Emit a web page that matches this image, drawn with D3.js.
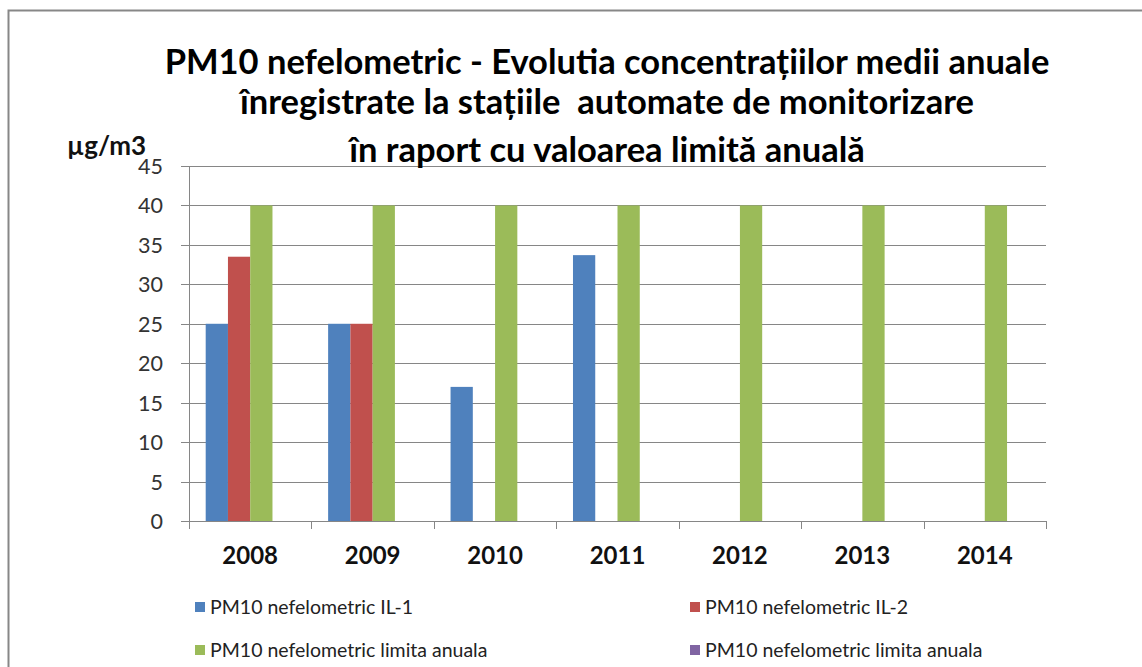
<!DOCTYPE html>
<html>
<head>
<meta charset="utf-8">
<script src="https://cdn.jsdelivr.net/npm/d3@7"></script>
<style>
body { margin: 0; background: #fff; }
svg { display: block; font-family: Lato, "Open Sans", sans-serif; }
</style>
</head>
<body>
<div id="container"><svg></svg></div>
<script>
let width = 1142, height = 667;

// date
let years = ['2008', '2009', '2010', '2011', '2012', '2013', '2014'];
let il1 = [25, 25, 17, 33.7, null, null, null];
let il2 = [33.5, 25, null, null, null, null, null];
let limita = [40, 40, 40, 40, 40, 40, 40];
let limita2 = [null, null, null, null, null, null, null];
let seriesNames = ['PM10 nefelometric IL-1', 'PM10 nefelometric IL-2', 'PM10 nefelometric limita anuala', 'PM10 nefelometric limita anuala'];
let seriesColors = ['#4f81bd', '#c0504d', '#9bbb59', '#8064a2'];
let yTicks = [0, 5, 10, 15, 20, 25, 30, 35, 40, 45];
let titleLines = ['PM10 nefelometric - Evolutia concentrațiilor medii anuale',
                  'înregistrate la stațiile  automate de monitorizare',
                  'în raport cu valoarea limită anuală'];

let pLeft = 189, pRight = 1046, pTop = 166, pBottom = 521;

let svg = d3.select('#container').select('svg')
    .attr('width', width).attr('height', height);

// rama
svg.append('rect')
    .attr('x', 8.5).attr('y', 10.5)
    .attr('width', 1200).attr('height', 700)
    .attr('fill', '#fff').attr('stroke', '#878787').attr('stroke-width', 2);

let x = d3.scaleBand().domain(years).range([pLeft, pRight]).paddingInner(0).paddingOuter(0);
let y = d3.scaleLinear().domain([0, 45]).range([pBottom, pTop]);

// grid
svg.append('g').selectAll('line').data(yTicks).join('line')
    .attr('x1', pLeft - 8).attr('x2', pRight)
    .attr('y1', d => Math.round(y(d)) + 0.5).attr('y2', d => Math.round(y(d)) + 0.5)
    .attr('stroke', '#868686').attr('stroke-width', 1);

// axa y
svg.append('line').attr('x1', pLeft + 0.5).attr('x2', pLeft + 0.5)
    .attr('y1', pTop).attr('y2', pBottom).attr('stroke', '#868686');

svg.append('g').selectAll('text').data(yTicks).join('text')
    .attr('x', 163).attr('y', d => y(d) + 8)
    .attr('text-anchor', 'end')
    .attr('font-size', 21.5).attr('fill', '#333')
    .text(d => d);

// bare
let series = [il1, il2, limita, limita2];
let bw = x.bandwidth() / 5.5;
let xs = d3.scaleBand().domain(d3.range(4)).range([0.75 * bw, 4.75 * bw]);
series.forEach((vals, si) => {
    svg.append('g').selectAll('rect')
        .data(vals.map((v, i) => ({year: years[i], v: v})).filter(d => d.v != null))
        .join('rect')
        .attr('x', d => x(d.year) + xs(si))
        .attr('width', xs.bandwidth())
        .attr('y', d => y(d.v))
        .attr('height', d => y(0) - y(d.v))
        .attr('fill', seriesColors[si]);
});

// axa x
svg.append('line').attr('x1', pLeft).attr('x2', pRight)
    .attr('y1', pBottom + 0.5).attr('y2', pBottom + 0.5).attr('stroke', '#868686');
svg.append('g').selectAll('line').data(years.concat(['end'])).join('line')
    .attr('x1', (d, i) => Math.round(pLeft + i * x.bandwidth()) + 0.5)
    .attr('x2', (d, i) => Math.round(pLeft + i * x.bandwidth()) + 0.5)
    .attr('y1', pBottom).attr('y2', pBottom + 8)
    .attr('stroke', '#868686');
svg.append('g').selectAll('text').data(years).join('text')
    .attr('x', d => x(d) + x.bandwidth() / 2).attr('y', 564)
    .attr('text-anchor', 'middle')
    .attr('font-size', 24).attr('font-weight', 'bold').attr('fill', '#111')
    .text(d => d);

// titlu
let titleY = [74, 114, 162];
svg.append('g').selectAll('text').data(titleLines).join('text')
    .attr('x', 607).attr('y', (d, i) => titleY[i])
    .attr('text-anchor', 'middle')
    .attr('font-size', 34.5).attr('font-weight', 'bold').attr('fill', '#000')
    .style('white-space', 'pre')
    .text(d => d);

svg.append('text').attr('x', 67).attr('y', 155)
    .attr('font-size', 26).attr('font-weight', 'bold').attr('fill', '#111')
    .text('µg/m3');

// legenda
let legPos = [[195, 607], [690, 607], [195, 650], [690, 650]];
let leg = svg.append('g').selectAll('g').data(seriesNames).join('g')
    .attr('transform', (d, i) => 'translate(' + legPos[i][0] + ',' + legPos[i][1] + ')');
leg.append('rect').attr('x', 0).attr('y', -5).attr('width', 10).attr('height', 10)
    .attr('fill', (d, i) => seriesColors[i]);
leg.append('text').attr('x', 15).attr('y', 7)
    .attr('font-size', 19.5).attr('fill', '#222')
    .text(d => d);
</script>
</body>
</html>
